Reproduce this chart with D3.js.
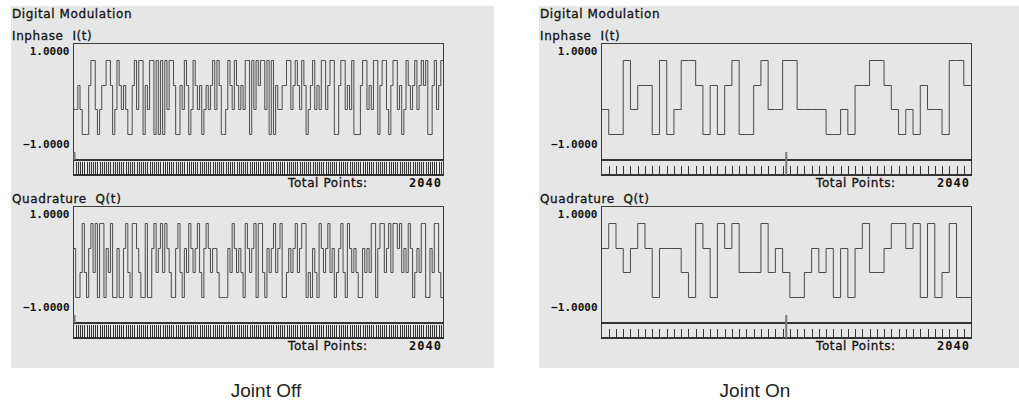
<!DOCTYPE html>
<html>
<head>
<meta charset="utf-8">
<script src="https://cdn.jsdelivr.net/npm/d3@7"></script>
<style>
  body { margin: 0; background: #fff; }
  text { white-space: pre; }
</style>
</head>
<body>
<script>
// symbol levels: 3 = +1, 2 = +1/3, 1 = -1/3, 0 = -1
let levelValues = [-1, -1 / 3, 1 / 3, 1];

// Joint Off : 170 symbols of 12 points
let offI = [
  1,1,2,1,0,0,0,2,3,3,1,0,1,2,2,3,3,2,0,1,
  3,2,1,2,1,0,0,2,3,1,3,3,0,2,1,3,3,0,3,0,
  3,0,3,1,3,3,2,0,0,2,1,3,2,0,1,3,2,1,2,0,
  1,2,1,2,3,1,3,2,0,0,1,3,2,1,3,2,1,2,1,3,
  3,0,3,1,3,2,3,3,1,3,0,3,0,2,1,1,2,2,3,3,
  1,2,3,2,1,3,2,0,1,2,3,1,2,1,3,3,1,2,3,3,
  0,0,2,3,3,1,2,1,3,0,0,0,2,3,3,1,2,1,3,3,
  0,2,3,3,1,0,2,3,3,1,2,0,1,3,2,1,2,3,1,2,
  3,2,3,0,0,2,3,1,2,3
];
let offQ = [
  2,0,0,1,3,1,0,2,3,1,3,0,3,3,0,2,1,3,0,0,
  2,0,0,2,3,1,0,3,3,2,1,0,0,3,0,0,2,3,1,2,
  3,1,3,2,1,0,0,2,3,1,0,2,1,3,2,1,2,3,1,0,
  2,3,2,1,2,2,1,0,0,0,0,2,1,3,2,1,2,1,0,3,
  2,1,2,3,0,3,3,1,0,2,1,2,3,1,2,3,0,0,1,2,
  1,2,3,1,2,3,3,0,1,0,2,1,0,3,2,1,2,3,1,2,
  0,1,2,3,1,0,3,2,1,2,1,0,0,2,1,2,1,3,3,0,
  2,3,3,1,2,3,1,3,3,2,3,1,2,1,3,2,0,1,2,1,
  3,3,0,0,2,1,3,3,1,0
];

// Joint On : 51 symbols of 40 points
let onI = [
  1,0,0,3,1,2,2,0,3,0,1,3,3,2,0,2,0,2,3,0,0,2,3,1,1,3,
  3,1,1,1,1,0,0,1,0,2,2,3,3,2,1,0,1,0,2,1,1,0,3,3,2
];
let onQ = [
  2,3,2,1,2,3,2,0,2,2,2,1,0,3,2,0,3,2,3,1,1,1,3,1,2,1,
  0,0,1,2,1,2,0,2,0,2,3,1,1,2,3,3,2,3,0,3,0,1,3,0,0
];

let totalPoints = 2040;
let axisValues = [1, -1];
let captions = ["Joint Off", "Joint On"];

let svgWidth = 1019;
let svgHeight = 408;

let svg = d3.select("body")
  .append("svg")
  .attr("width", svgWidth)
  .attr("height", svgHeight);

// plot box inside one panel (left panel coordinates)
let box = { left: 73, right: 443, top: 43.5, sep: 160, bottom: 175 };
let qShift = 163;

function drawChannel(g, name, symbols, yOff, opts) {
  let ch = g.append("g").attr("transform", `translate(0, ${yOff})`);
  let pps = totalPoints / symbols.length;

  let x = d3.scaleLinear().domain([0, totalPoints]).range([box.left + 0.5, box.right]);
  let y = d3.scaleLinear().domain([-1, 1]).range([134, 60]);

  ch.append("text")
    .attr("x", 12).attr("y", 40)
    .attr("class", "lbl")
    .text(name);

  // y labels
  ch.selectAll(".ylab")
    .data(axisValues)
    .enter()
    .append("text")
    .attr("class", "ylab")
    .attr("x", box.left - 3.5)
    .attr("y", d => d > 0 ? y(d) - 5 : y(d) + 14)
    .attr("text-anchor", "end")
    .text(d => d3.format(".4f")(d));

  // frame
  ch.append("rect")
    .attr("x", box.left + 0.5).attr("y", box.top)
    .attr("width", box.right - box.left).attr("height", box.bottom - box.top)
    .attr("fill", "none").attr("stroke", "#3c3c3c").attr("stroke-width", 1)
    .attr("shape-rendering", "crispEdges");

  // signal
  let pts = symbols.map((s, i) => ({ p: i * pps, v: levelValues[s] }));
  pts.push({ p: totalPoints, v: levelValues[symbols[symbols.length - 1]] });
  let line = d3.line()
    .x(d => x(d.p))
    .y(d => Math.round(y(d.v)) + 0.5)
    .curve(d3.curveStepAfter);
  ch.append("path")
    .attr("d", line(pts))
    .attr("fill", "none")
    .attr("stroke", "#4a4a4a")
    .attr("stroke-width", 1);

  // separator and strip bottom
  ch.append("rect")
    .attr("x", box.left).attr("y", box.sep - 1)
    .attr("width", box.right - box.left + 1).attr("height", 2)
    .attr("fill", "#333");
  ch.append("rect")
    .attr("x", box.left).attr("y", box.bottom - 1)
    .attr("width", box.right - box.left + 1).attr("height", 2)
    .attr("fill", "#333");

  // symbol ticks in strip
  let tickPos = d3.range(1, symbols.length).map(i => i * pps);
  ch.selectAll(".stk")
    .data(tickPos)
    .enter()
    .append("line")
    .attr("x1", d => Math.round(x(d)) + 0.5)
    .attr("x2", d => Math.round(x(d)) + 0.5)
    .attr("y1", opts.tickTop)
    .attr("y2", box.bottom - 1)
    .attr("stroke", "#333")
    .attr("stroke-width", 1);

  // cursor marker
  let cx = Math.max(box.left + 1.5, x(opts.cursor));
  ch.append("line")
    .attr("x1", cx).attr("x2", cx)
    .attr("y1", 152).attr("y2", opts.cursorDown ? box.bottom : box.sep)
    .attr("stroke", "#777").attr("stroke-width", 2);

  // total points
  ch.append("text")
    .attr("class", "lbl")
    .attr("x", 288).attr("y", 187)
    .text("Total Points:");
  ch.append("text")
    .attr("class", "num")
    .attr("x", box.right - 1).attr("y", 187)
    .attr("text-anchor", "end")
    .text(totalPoints);
}

function drawPanel(ox, width, I, Q, opts, caption) {
  let g = svg.append("g").attr("transform", `translate(${ox}, 0)`);
  g.append("rect")
    .attr("x", 11).attr("y", 6)
    .attr("width", width).attr("height", 362)
    .attr("fill", "#e6e6e6");
  g.append("text")
    .attr("class", "lbl")
    .attr("x", 12).attr("y", 18)
    .text("Digital Modulation");
  drawChannel(g, "Inphase  I(t)", I, 0, opts);
  drawChannel(g, "Quadrature  Q(t)", Q, qShift, opts);
  svg.append("text")
    .attr("class", "cap")
    .attr("x", opts.capX).attr("y", 397)
    .attr("text-anchor", "middle")
    .text(caption);
}

drawPanel(0, 483, offI, offQ, { tickTop: 162, cursor: 0, cursorDown: false, capX: 266 }, captions[0]);
drawPanel(528, 480, onI, onQ, { tickTop: 166, cursor: 1020, cursorDown: true, capX: 755 }, captions[1]);

svg.selectAll(".lbl")
  .attr("font-family", "DejaVu Sans")
  .attr("font-size", "12px")
  .attr("letter-spacing", "0.6px")
  .attr("fill", "#111")
  .attr("stroke", "#111")
  .attr("stroke-width", 0.3);
svg.selectAll(".ylab, .num")
  .attr("font-family", "DejaVu Sans Mono")
  .attr("font-weight", "bold")
  .attr("font-size", "11px")
  .attr("fill", "#111");
svg.selectAll(".num")
  .attr("font-size", "12px")
  .attr("letter-spacing", "1px");
svg.selectAll(".cap")
  .attr("font-family", "Liberation Sans")
  .attr("font-size", "19px")
  .attr("fill", "#222");
</script>
</body>
</html>
